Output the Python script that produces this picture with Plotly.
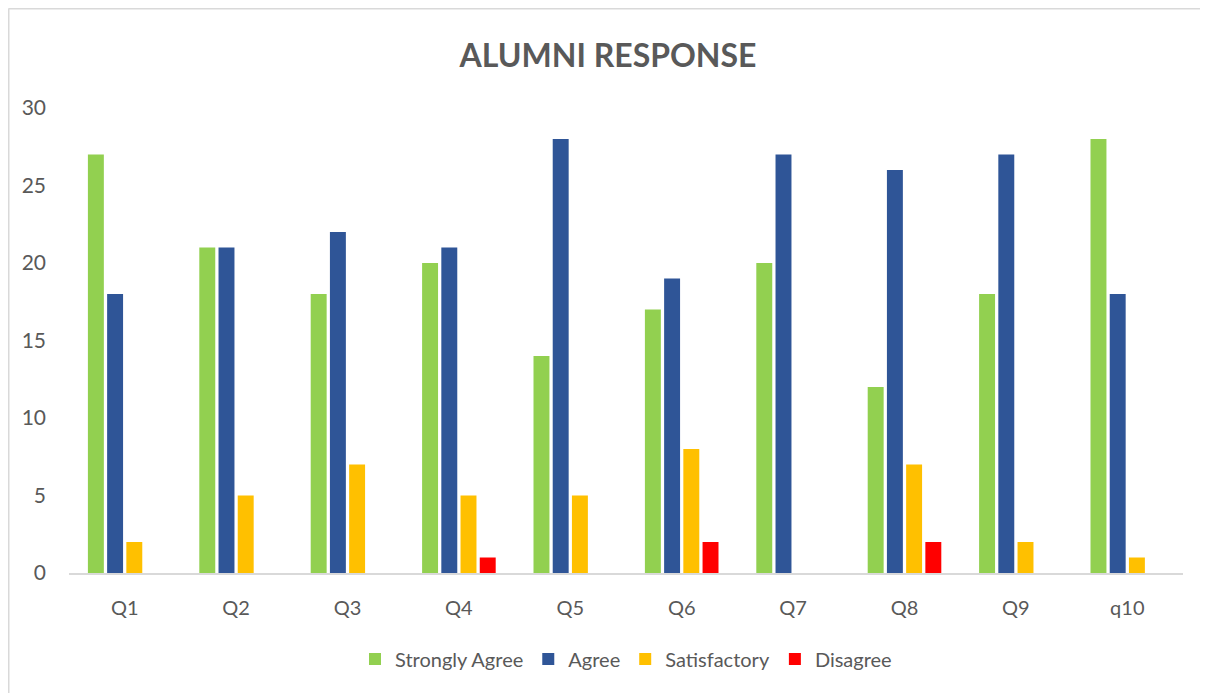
import plotly.graph_objects as go

categories = ["Q1", "Q2", "Q3", "Q4", "Q5", "Q6", "Q7", "Q8", "Q9", "q10"]
strongly_agree = [27, 21, 18, 20, 14, 17, 20, 12, 18, 28]
agree = [18, 21, 22, 21, 28, 19, 27, 26, 27, 18]
satisfactory = [2, 5, 7, 5, 5, 8, 0, 7, 2, 1]
disagree = [0, 0, 0, 1, 0, 2, 0, 2, 0, 0]
y_ticks = [0, 5, 10, 15, 20, 25, 30]

# page body adds an 8px offset; figure is sized/positioned to compensate
OFF = 8
W, H = 1208 - OFF, 693 - OFF
ML, MR, MT, MB = 69 - OFF, 25, 108 - OFF, 120
FONT = "Lato"
GREY = "#595959"

series = [
    ("Strongly Agree", strongly_agree, "#92D050"),
    ("Agree", agree, "#2F5597"),
    ("Satisfactory", satisfactory, "#FFC000"),
    ("Disagree", disagree, "#FF0000"),
]

fig = go.Figure()
for name, vals, col in series:
    fig.add_trace(go.Bar(x=categories, y=vals, name=name, marker_color=col,
                         marker_line_width=0))

pw = W - ML - MR
ph = H - MT - MB
x_left = (0.5 - ML) / pw
y_top = 1 + (MT - 0.5) / ph
y_bot = -(MB) / ph

fig.update_layout(
    width=W, height=H,
    margin=dict(l=ML, r=MR, t=MT, b=MB, pad=0),
    paper_bgcolor="white", plot_bgcolor="white",
    barmode="group", bargap=0.31, bargroupgap=0.17,
    font=dict(family=FONT, color=GREY, size=20),
    title=dict(text="<b>ALUMNI RESPONSE</b>", x=0.5, xanchor="center",
               y=1 - (56 - OFF) / H, yanchor="middle",
               font=dict(family=FONT, size=32, color=GREY)),
    showlegend=True,
    legend=dict(orientation="h", x=0.5, xanchor="center",
                y=-(659 - 573) / ph, yanchor="middle",
                font=dict(family=FONT, size=20, color=GREY),
                itemwidth=30, traceorder="normal"),
    xaxis=dict(showgrid=False, showline=True, linecolor="#D9D9D9", linewidth=2,
               ticks="", ticklabelstandoff=16,
               tickfont=dict(family=FONT, size=20, color=GREY)),
    yaxis=dict(range=[0, 30], tickvals=y_ticks, showgrid=False, zeroline=False,
               showline=False, ticks="", ticklabelstandoff=22,
               tickfont=dict(family=FONT, size=21, color=GREY)),
    shapes=[
        dict(type="line", xref="paper", yref="paper", x0=x_left, x1=1 + MR / pw,
             y0=y_top, y1=y_top, line=dict(color="#D9D9D9", width=2)),
        dict(type="line", xref="paper", yref="paper", x0=x_left, x1=x_left,
             y0=y_top, y1=y_bot, line=dict(color="#D9D9D9", width=2)),
    ],
)

fig.write_html("out.html")
